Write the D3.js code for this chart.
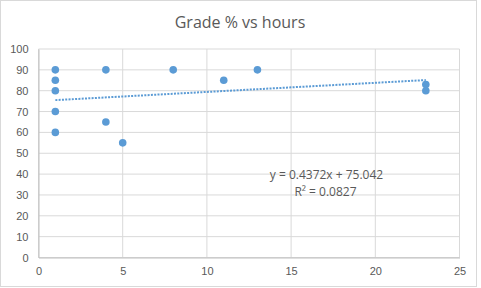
<!DOCTYPE html>
<html>
<head>
<meta charset="utf-8">
<script src="https://cdn.jsdelivr.net/npm/d3@7"></script>
<style>
  body { margin: 0; background: #fff; }
  svg { display: block; font-family: "Open Sans", "Noto Sans", sans-serif; }
  .tick text { fill: #595959; font-size: 11px; }
</style>
</head>
<body>
<div id="chart"></div>
<script>
// Hours studied vs grade
const hours  = [1, 1, 1, 1, 1, 4, 4, 5, 8, 11, 13, 23, 23];
const grades = [90, 85, 80, 70, 60, 90, 65, 55, 90, 85, 90, 83, 80];
const xTicks = [0, 5, 10, 15, 20, 25];
const yTicks = [0, 10, 20, 30, 40, 50, 60, 70, 80, 90, 100];
// Linear trendline as reported by the spreadsheet
const trendSlope = 0.4372;
const trendIntercept = 75.042;
const trendR2 = 0.0827;

const w = 481, h = 288;
const margin = {top: 49, right: 21.5, bottom: 30.5, left: 38.5};
const width = w - margin.left - margin.right;
const height = h - margin.top - margin.bottom;
const grey = "#595959", gridColor = "#d9d9d9", blue = "#5b9bd5";

const svg = d3.select("#chart").append("svg")
  .attr("width", w)
  .attr("height", h);

// Outer border
svg.append("rect")
  .attr("x", 0.5).attr("y", 0.5)
  .attr("width", 476).attr("height", 286)
  .attr("fill", "#fff").attr("stroke", gridColor);

// Title
svg.append("text")
  .attr("x", 240).attr("y", 28)
  .attr("text-anchor", "middle")
  .attr("fill", grey)
  .style("font-size", "16px")
  .text("Grade % vs hours");

const x = d3.scaleLinear().domain([0, 25]).range([0, width]);
const y = d3.scaleLinear().domain([0, 100]).range([height, 0]);

const g = svg.append("g")
  .attr("transform", `translate(${margin.left},${margin.top})`);

// Grid lines
g.append("g").selectAll("line")
  .data(yTicks)
  .join("line")
  .attr("x1", 0).attr("x2", width)
  .attr("y1", d => y(d)).attr("y2", d => y(d))
  .attr("stroke", gridColor);

g.append("g").selectAll("line")
  .data(xTicks)
  .join("line")
  .attr("x1", d => x(d)).attr("x2", d => x(d))
  .attr("y1", 0).attr("y2", height)
  .attr("stroke", gridColor);

// Axes
const gX = g.append("g")
  .attr("transform", `translate(0,${height})`)
  .call(d3.axisBottom(x).tickValues(xTicks).tickSize(0).tickPadding(10));
gX.select(".domain").attr("stroke", "#bfbfbf");

const gY = g.append("g")
  .call(d3.axisLeft(y).tickValues(yTicks).tickSize(0).tickPadding(10));
gY.select(".domain").attr("stroke", "#bfbfbf");

// Trendline
const xExt = d3.extent(hours);
g.append("line")
  .attr("x1", x(xExt[0])).attr("y1", y(trendSlope * xExt[0] + trendIntercept))
  .attr("x2", x(xExt[1])).attr("y2", y(trendSlope * xExt[1] + trendIntercept))
  .attr("stroke", blue)
  .attr("stroke-width", 2)
  .attr("stroke-dasharray", "2,1.3");

// Points
g.append("g").selectAll("circle")
  .data(hours.map((d, i) => ({x: d, y: grades[i]})))
  .join("circle")
  .attr("cx", d => x(d.x))
  .attr("cy", d => y(d.y))
  .attr("r", 3.8)
  .attr("fill", blue);

// Equation label
const eq = g.append("text")
  .attr("fill", grey)
  .attr("text-anchor", "middle")
  .style("font-size", "12px");
eq.append("tspan")
  .attr("x", 288).attr("y", 130)
  .text(`y = ${trendSlope}x + ${trendIntercept.toFixed(3)}`);
eq.append("tspan")
  .attr("x", 287).attr("y", 147)
  .text(`R² = ${trendR2}`);
</script>
</body>
</html>
